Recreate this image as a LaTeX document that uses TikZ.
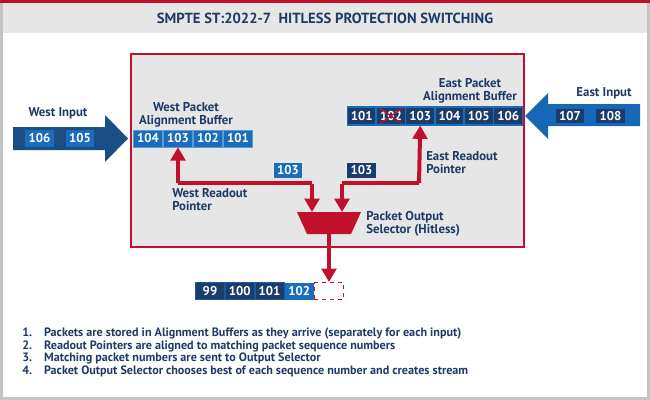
\documentclass[tikz,border=0pt]{standalone}
\usepackage{fontspec}
\setmainfont{PT Sans}
\usetikzlibrary{arrows.meta}

\definecolor{navytext}{HTML}{1F3A66}
\definecolor{selred}{HTML}{C0102C}
\definecolor{pktlight}{HTML}{1A6DBA}
\definecolor{pktdark}{HTML}{1B3D6B}
\definecolor{westblue}{HTML}{1C4E86}
\definecolor{eastblue}{HTML}{1668B6}
\definecolor{panelgray}{HTML}{E6E6E6}
\definecolor{framegray}{HTML}{C4C4C4}

\begin{document}
\begin{tikzpicture}[x = 0.75pt, y = -0.75pt,
	cell/.style = {minimum width = 22pt, minimum height = 12.75pt, inner sep = 0pt, text = white, font = \bfseries\fontsize{9.6}{10}\selectfont},
	wcell/.style = {cell, fill = pktlight, draw = pktlight!70!white, line width = 0.4pt},
	ecell/.style = {cell, fill = pktdark, draw = pktlight, line width = 0.8pt},
	token/.style = {cell, minimum width = 21.5pt, minimum height = 11pt},
	caption/.style = {text = navytext, font = \bfseries\fontsize{9.6}{9.9}\selectfont, inner sep = 0pt},
	pointer/.style = {draw = selred, line width = 3pt, -{Triangle[width = 11pt, length = 10pt]}},
	feed/.style = {draw = selred, line width = 3pt}]

	\useasboundingbox (0, 0) rectangle (650, 400);

	% Frame + title
	
	\draw [framegray, line width = 2.25pt, fill = white] (1.5, 1.5) rectangle (648.5, 398.5);
	\fill [selred] (0, 0) rectangle (650, 3);
	\fill [panelgray] (3, 3) rectangle (647, 33);
	\node [text = navytext, font = \bfseries\fontsize{11}{12}\selectfont] (title) at (325, 18) {SMPTE ST:2022-7\ \ HITLESS PROTECTION SWITCHING};
	
	% Receiver panel
	
	\draw [selred, line width = 1.5pt, fill = panelgray] (131, 54) rectangle (524, 247);
	
	% West input
	
	\fill [westblue] (13, 127) -- (105, 127) -- (105, 115) -- (128, 138.5) -- (105, 162) -- (105, 150) -- (13, 150) -- cycle;
	\node [token, fill = pktlight, minimum height = 12.75pt] (w106) at (39.5, 138.5) {106};
	\node [token, fill = pktlight, minimum height = 12.75pt] (w105) at (80, 138.5) {105};
	\node [caption] (westin) at (58, 113) {West Input};
	
	% West buffer
	
	\foreach \n [count = \i] in {104, 103, 102, 101}
		\node [wcell] (b\n) at ({118 + 30 * \i}, 138.5) {\n};
	\node [caption, align = center] (westbuf) at (186, 114.5) {West Packet\\Alignment Buffer};
	
	% East input
	
	\fill [eastblue] (640, 104) -- (548, 104) -- (548, 93) -- (525, 116) -- (548, 139) -- (548, 126) -- (640, 126) -- cycle;
	\node [token, fill = pktdark] (e107) at (570, 116) {107};
	\node [token, fill = pktdark] (e108) at (610.5, 116) {108};
	\node [caption] (eastin) at (604, 93) {East Input};
	
	% East buffer
	
	\foreach \n [count = \i] in {101, ..., 106}
		\node [ecell, minimum width = 21.5pt, minimum height = 13.5pt] (c\n) at ({332.35 + 29.3 * \i}, 116) {\n};
	\draw [selred, line width = 1pt] ([shift = {(4, -2)}] c102.south west) -- ([shift = {(-4, 2)}] c102.north east)
		([shift = {(4, 2)}] c102.north west) -- ([shift = {(-4, -2)}] c102.south east);
	\node [caption, align = center] (eastbuf) at (470, 90.5) {East Packet\\Alignment Buffer};
	
	% Readout pointers
	
	\coordinate (wbend) at (178, 183);
	\coordinate (ebend) at (419, 183);
	\coordinate (wdrop) at (312, 183);
	\coordinate (edrop) at (342, 183);
	\coordinate (muxw) at (312, 212);
	\coordinate (muxe) at (342, 212);
	
	\draw [pointer] (wbend) -- (b103.south);
	\draw [pointer] (ebend) -- (c103.south);
	\draw [feed] (wbend) -- (wdrop);
	\draw [feed] (ebend) -- (edrop);
	\draw [pointer] ([yshift = -1.1pt] wdrop) -- (muxw);
	\draw [pointer] ([yshift = -1.1pt] edrop) -- (muxe);
	
	\node [token, fill = pktlight] (wpkt) at (288, 170.5) {103};
	\node [token, fill = pktdark] (epkt) at (361.5, 170.5) {103};
	
	\node [caption, align = left, anchor = north west] (wptr) at (172, 188) {West Readout\\Pointer};
	\node [caption, align = left, anchor = north west] (eptr) at (426, 151) {East Readout\\Pointer};
	
	% Output selector
	
	\fill [selred] (297, 212) -- (361, 212) -- (351, 234) -- (307, 234) -- cycle;
	\coordinate (muxs) at (329, 233);
	\node [caption, align = left, anchor = north west] (selector) at (366, 211) {Packet Output\\Selector (Hitless)};
	
	% Output stream
	
	\foreach \n [count = \i] in {99, 100, 101}
		\node [cell, fill = pktdark, draw = pktlight!60!pktdark, line width = 0.4pt] (o\n) at ({180.2 + 29.8 * \i}, 291) {\n};
	\node [cell, fill = pktlight] (o102) at (299.3, 291) {102};
	\node [cell, draw = selred, dashed, line width = 0.8pt, fill = white] (onext) at (329, 291) {};
	\draw [pointer] (muxs) -- (onext.north);
	
	% Steps
	
	\node [caption, anchor = north west, font = \bfseries\fontsize{9.1}{9.6}\selectfont] (steps) at (22, 327) {%
		\begin{tabular}{@{}l@{\hspace{9pt}}l@{}}
			1. & Packets are stored in Alignment Buffers as they arrive (separately for each input)\\
			2. & Readout Pointers are aligned to matching packet sequence numbers\\
			3. & Matching packet numbers are sent to Output Selector\\
			4. & Packet Output Selector chooses best of each sequence number and creates stream
		\end{tabular}};

\end{tikzpicture}
\end{document}
